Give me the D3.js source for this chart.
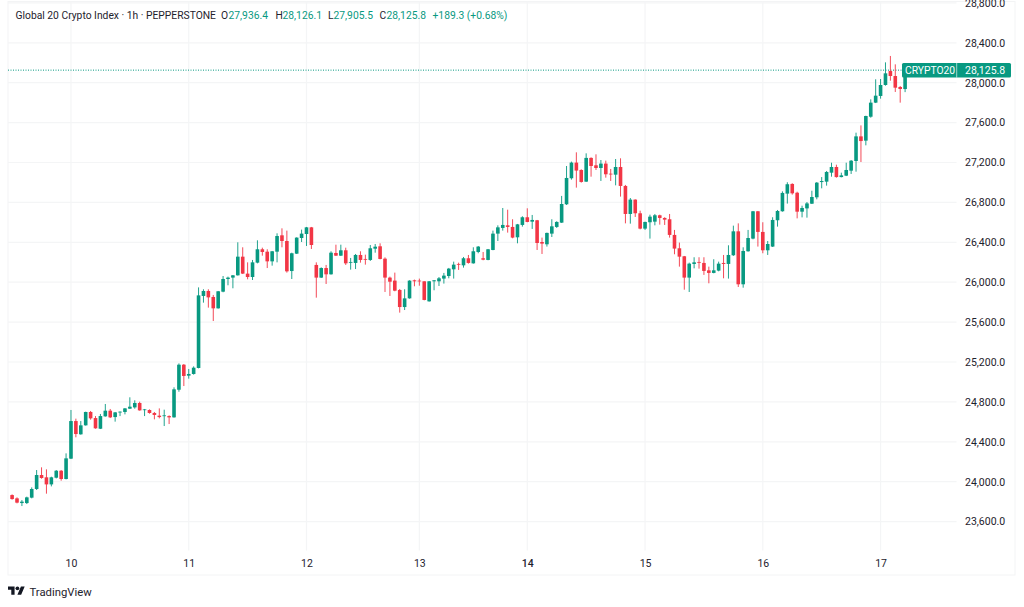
<!DOCTYPE html>
<html lang="en">

<head>
    <meta charset="UTF-8">
    <title>Global 20 Crypto Index</title>
    <script src="https://d3js.org/d3.v7.min.js"></script>
    <style>
        html, body { margin: 0; padding: 0; background: #fff; }
        svg { display: block; }
        text { font-family: Roboto, "Liberation Sans", sans-serif; fill: #1e222d; }
    </style>
</head>

<body>
    <div id="chart"></div>

    <script>
        // hourly candles, first candle is 9 Jan 12:00-ish
        const opens = [23866,23833,23786,23786,23840,23927,24067,24044,23973,24040,24110,24027,24231,24608,24475,24565,24699,24638,24531,24655,24712,24648,24695,24699,24732,24745,24789,24722,24719,24689,24662,24658,24658,24645,24922,25173,25063,25080,25140,
            25862,25912,25852,25738,25905,26032,26046,26069,26256,26086,26052,26196,26330,26306,26209,26306,26470,26413,26112,26286,26443,26483,26550,26173,26046,26142,26079,26293,26266,26320,26196,26193,26273,26233,26223,26336,26360,26236,26046,26016,25922,25751,25838,26019,26016,26009,
            25808,26009,26009,26036,26062,26129,26183,26169,26240,26189,26303,26240,26223,26323,26487,26544,26570,26554,26450,26574,26651,26607,26621,26403,26380,26487,26554,26597,26781,27042,27199,27125,27008,27246,27172,
            27145,27189,27088,27078,27155,26965,26684,26828,26691,26537,26601,26607,26671,26644,26631,26474,26340,26260,26046,26183,26203,26193,26119,26093,26116,26193,26183,26270,26510,25979,26310,26437,26711,26504,26320,26357,26621,26711,26888,26985,
            26897,26707,26740,26787,26851,27004,27008,27098,27155,27054,27068,27118,27215,27462,27419,27659,27800,27867,27977,28117,28067,27957,27936.4];
        const highs = [23873,23843,23816,23850,23943,24117,24144,24124,24050,24117,24117,24284,24719,24632,24608,24702,24709,24658,24679,24779,24729,24699,24705,24739,24846,24816,24802,24729,24725,24699,24735,24722,24665,24946,25186,25180,25130,25156,25948,
            25929,25929,25872,25912,26062,26056,26072,26400,26350,26199,26223,26420,26346,26330,26313,26490,26540,26517,26296,26450,26527,26554,26554,26199,26149,26173,26310,26376,26376,26346,26243,26283,26310,26276,26373,26383,26390,26249,26056,26096,25932,25929,26019,26026,26036,26009,
            26012,26022,26052,26093,26143,26206,26196,26253,26273,26350,26363,26303,26333,26517,26570,26744,26727,26631,26584,26661,26741,26674,26624,26447,26497,26631,26611,26865,27165,27209,27302,27132,27292,27252,27282,
            27225,27219,27135,27235,27242,26975,26844,26831,26717,26607,26677,26684,26677,26651,26684,26524,26397,26263,26196,26250,26250,26250,26156,26230,26206,26273,26370,26567,26590,26350,26524,26714,26714,26601,26413,26651,26724,26911,27002,26992,
            26907,26767,26804,26917,27004,27054,27115,27198,27178,27098,27198,27225,27499,27572,27669,27833,28034,28037,28204,28268,28184,27967,28126.1];
        const lows = [23820,23783,23756,23776,23833,23917,24030,23880,23953,24033,24010,24023,24227,24445,24471,24562,24622,24531,24528,24652,24638,24602,24658,24675,24729,24732,24712,24658,24682,24625,24635,24558,24578,24642,24902,24959,25033,25073,25136,
            25795,25745,25611,25735,25899,25969,25939,26066,26082,26029,26022,26189,26266,26142,26166,26199,26350,26096,26032,26283,26403,26363,26333,25845,26042,25982,26076,26263,26263,26173,26126,26132,26196,26176,26213,26296,26229,25902,25862,25909,25695,25721,25835,25959,25965,25818,
            25805,25919,25962,25986,26039,26036,26123,26146,26186,26186,26290,26220,26220,26320,26413,26517,26497,26440,26390,26557,26601,26534,26323,26283,26357,26453,26544,26594,26774,27028,26948,26998,27005,27058,27125,
            27015,27048,27015,26971,26858,26590,26587,26654,26530,26524,26437,26570,26577,26574,26447,26280,26156,25925,25902,26139,26136,26073,25989,26089,26109,26039,26036,26263,25952,25945,26306,26430,26357,26290,26273,26353,26557,26707,26788,26878,
            26640,26650,26647,26784,26831,26941,26968,27058,27048,27051,27064,27085,27108,27205,27372,27649,27796,27840,27970,28020,27907,27800,27905.5];
        const closes = [23826,23790,23800,23843,23927,24067,24037,23973,24044,24110,24027,24234,24608,24478,24565,24699,24635,24535,24658,24712,24645,24695,24702,24735,24752,24789,24715,24725,24689,24669,24648,24665,24645,24926,25173,25060,25080,25143,25868,
            25912,25848,25738,25909,26032,26046,26069,26256,26086,26052,26199,26330,26303,26209,26310,26463,26413,26109,26290,26447,26487,26550,26373,26046,26142,26079,26296,26266,26320,26189,26203,26273,26223,26226,26340,26356,26233,26046,26005,25915,25751,25838,26016,26009,26009,25822,
            26009,26019,26039,26066,26136,26176,26176,26240,26193,26310,26357,26226,26330,26487,26550,26574,26554,26447,26580,26651,26604,26624,26393,26387,26494,26560,26604,26784,27045,27199,27119,27005,27246,27165,27145,
            27189,27082,27082,27155,26965,26684,26828,26691,26537,26604,26657,26671,26644,26627,26474,26337,26256,26046,26186,26199,26196,26113,26093,26119,26186,26183,26273,26510,25979,26313,26443,26711,26504,26320,26383,26624,26714,26895,26982,26891,
            26707,26744,26790,26854,26998,27014,27105,27155,27054,27071,27125,27218,27462,27415,27666,27800,27870,27977,28094,28067,27950,27937,28125.8];

        const priceTicks = [23600,24000,24400,24800,25200,25600,26000,26400,26800,27200,27600,28000,28400,28800];
        const dayLabels = ["10","11","12","13","14","15","16","17"];
        const dayIndex = [12,36,60,83,105,129,153,177];  // weekend has a few missing candles
        const lastPrice = 28125.8;

        const legendParts = [
            { text: "Global 20 Crypto Index · 1h · PEPPERSTONE", x: 15.5, green: false },
            { text: "O", x: 221, green: false },
            { text: "27,936.4", x: 228.5, green: true },
            { text: "H", x: 275.5, green: false },
            { text: "28,126.1", x: 282.5, green: true },
            { text: "L", x: 328, green: false },
            { text: "27,905.5", x: 333.5, green: true },
            { text: "C", x: 379.5, green: false },
            { text: "28,125.8", x: 386.5, green: true },
            { text: "+189.3 (+0.68%)", x: 432.5, green: true }
        ];

        const width = 1024, height = 607;
        const GREEN = "#089981", RED = "#F23645", GRID = "#f4f5f6";
        const paneLeft = 8, paneRight = 956.5, frameRight = 1015, paneBottom = 550.5, frameBottom = 575;

        const svg = d3.select("#chart").append("svg")
            .attr("width", width)
            .attr("height", height);

        // scales
        const x = d3.scaleLinear().domain([0, opens.length - 1]).range([12.1, 905.1]);
        const y = d3.scaleLinear().domain([24000, 28000]).range([481.7, 82.7]);

        // frame
        svg.append("rect")
            .attr("x", paneLeft).attr("y", 1.5)
            .attr("width", frameRight - paneLeft).attr("height", frameBottom - 1.5)
            .attr("fill", "none").attr("stroke", "#f3f4f5");

        // grid
        svg.append("g").selectAll("line").data(priceTicks).join("line")
            .attr("x1", paneLeft).attr("x2", paneRight)
            .attr("y1", d => y(d)).attr("y2", d => y(d))
            .attr("stroke", GRID).attr("stroke-width", 1.2);

        svg.append("g").selectAll("line").data(dayIndex).join("line")
            .attr("x1", d => x(d)).attr("x2", d => x(d))
            .attr("y1", 1.5).attr("y2", paneBottom)
            .attr("stroke", GRID).attr("stroke-width", 1.2);

        // last price line
        svg.append("line")
            .attr("x1", paneLeft).attr("x2", 902)
            .attr("y1", y(lastPrice)).attr("y2", y(lastPrice))
            .attr("stroke", GREEN).attr("stroke-dasharray", "1 1.5");

        // candles
        const candles = svg.append("g").selectAll("g").data(opens).join("g")
            .attr("fill", (d, i) => closes[i] >= d ? GREEN : RED)
            .attr("stroke", (d, i) => closes[i] >= d ? GREEN : RED);

        candles.append("line")
            .attr("x1", (d, i) => x(i)).attr("x2", (d, i) => x(i))
            .attr("y1", (d, i) => y(highs[i])).attr("y2", (d, i) => y(lows[i]))
            .attr("stroke-width", 0.9);

        candles.append("rect")
            .attr("x", (d, i) => x(i) - 1.8)
            .attr("width", 3.6)
            .attr("y", (d, i) => y(Math.max(d, closes[i])))
            .attr("height", (d, i) => Math.max(0.8, Math.abs(y(d) - y(closes[i]))))
            .attr("stroke", "none");

        // price axis
        const yAxis = svg.append("g")
            .attr("transform", `translate(960,0)`)
            .call(d3.axisRight(y).tickValues(priceTicks).tickFormat(d3.format(",.1f")).tickSize(0).tickPadding(5));
        yAxis.select(".domain").remove();
        yAxis.selectAll("text").attr("font-size", 10.5).style("font-family", "Roboto").style("fill", "#1e222d");

        // time axis, the 14th is drawn a bit heavier in the original
        const xAxis = svg.append("g")
            .attr("transform", `translate(0,${paneBottom + 5.5})`)
            .call(d3.axisBottom(x).tickValues(dayIndex).tickFormat((d, i) => dayLabels[i]).tickSize(0).tickPadding(4));
        xAxis.select(".domain").remove();
        xAxis.selectAll("text").attr("font-size", 10.5).style("font-family", "Roboto").style("fill", "#1e222d")
            .style("font-weight", d => d === 105 ? 500 : 400);

        // price label on the axis
        const labelY = y(lastPrice);
        svg.append("rect")
            .attr("x", 902).attr("y", labelY - 7.2)
            .attr("width", 109).attr("height", 14.6).attr("rx", 1.5)
            .attr("fill", GREEN);
        svg.append("line")
            .attr("x1", 956.7).attr("x2", 956.7)
            .attr("y1", labelY - 7.2).attr("y2", labelY + 7.4)
            .attr("stroke", "#fff").attr("stroke-opacity", 0.6);
        svg.append("text")
            .attr("x", 905).attr("y", labelY + 3.8)
            .attr("font-size", 10.3).style("fill", "#fff")
            .text("CRYPTO20");
        svg.append("text")
            .attr("x", 965).attr("y", labelY + 3.8)
            .attr("font-size", 10.5).style("fill", "#fff")
            .text(d3.format(",.1f")(lastPrice));

        // legend row
        svg.append("g").selectAll("text").data(legendParts).join("text")
            .attr("x", d => d.x).attr("y", 18.5)
            .attr("font-size", 10.3)
            .style("fill", d => d.green ? GREEN : "#1e222d")
            .text(d => d.text);

        // TradingView logo
        const logo = svg.append("g")
            .attr("transform", "translate(8,584.5) scale(0.47)")
            .attr("fill", "#131722");
        logo.append("path").attr("d", "M14 22H7V11H0V4h14v18zM28 22h-8l7.5-18h8L28 22z");
        logo.append("circle").attr("cx", 20).attr("cy", 8).attr("r", 4);

        svg.append("text")
            .attr("x", 29.5).attr("y", 595.5)
            .attr("font-size", 11.3)
            .text("TradingView");
    </script>

</body>

</html>
